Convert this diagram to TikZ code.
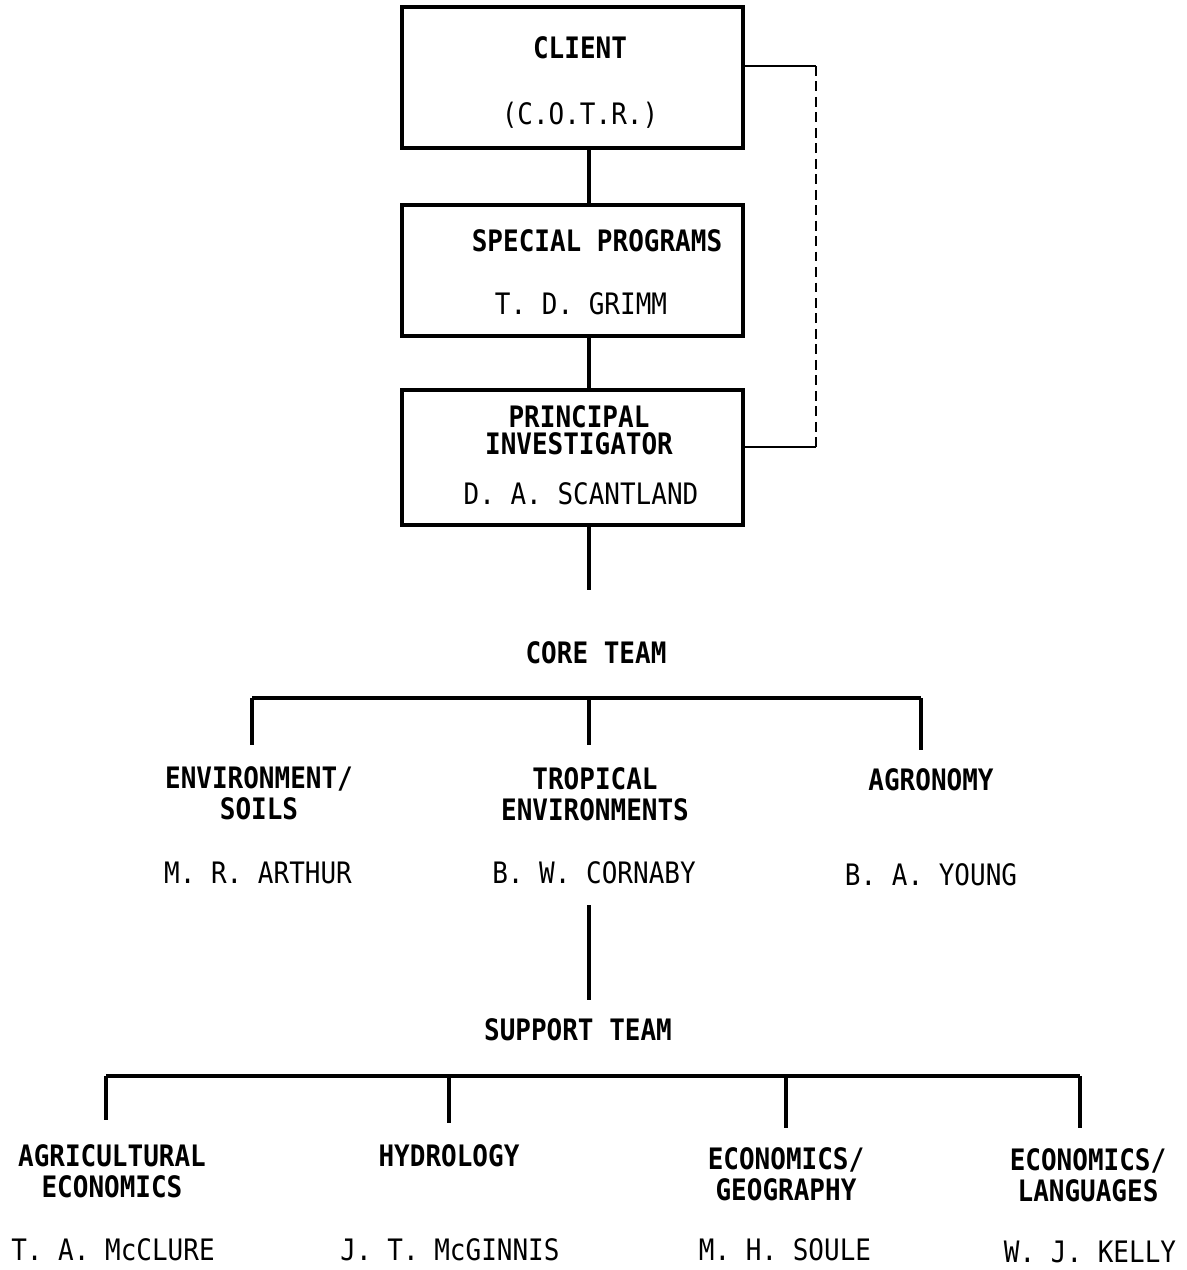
\documentclass[tikz,border=0pt]{standalone}
\usepackage{fontspec}
\newfontfamily\chartfont[FakeStretch=0.88]{DejaVu Sans Mono}
\begin{document}
\begin{tikzpicture}[x=0.025cm,y=-0.025cm,
	orgbox/.style={rectangle,draw,line width=2.4pt,inner sep=0pt,minimum width=8.525cm},
	headtext/.style={font={\chartfont\bfseries\fontsize{21}{22}\selectfont},align=center,inner sep=0pt},
	persontext/.style={font={\chartfont\fontsize{21}{22}\selectfont},inner sep=0pt},
	link/.style={line width=2.4pt},
	dashlink/.style={line width=1.6pt,dash pattern=on 7pt off 4pt}
]
\useasboundingbox (0,0) rectangle (1187,1270);

% Kaesten
\node[orgbox,minimum height=3.525cm] (client) at (572.5,77.5) {};
\node[orgbox,minimum height=3.275cm] (special) at (572.5,270.5) {};
\node[orgbox,minimum height=3.375cm] (pi) at (572.5,457.5) {};

\node[headtext] (clienthd) at (580,48) {CLIENT};
\node[persontext] (cotr) at (580,115) {(C.O.T.R.)};
\node[headtext] (specialhd) at (597,241) {SPECIAL PROGRAMS};
\node[persontext] (grimm) at (581,304) {T. D. GRIMM};
\node[headtext,font={\chartfont\bfseries\fontsize{21}{19.5}\selectfont}] (pihd) at (579,430) {PRINCIPAL\\INVESTIGATOR};
\node[persontext] (scantland) at (581,494) {D. A. SCANTLAND};

% Linien oben
\coordinate (spine) at (589,0);
\coordinate (pidrop) at (589,590);
\draw[link] (client.south -| spine) -- (special.north -| spine);
\draw[link] (special.south -| spine) -- (pi.north -| spine);
\draw[link] (pi.south -| spine) -- (pidrop);

\coordinate (dashtop) at (816,66);
\coordinate (dashbot) at (816,447);
\draw[link,line width=1.8pt] (client.east |- dashtop) -- (dashtop);
\draw[dashlink] (dashtop) -- (dashbot);
\draw[link,line width=1.8pt] (dashbot) -- (pi.east |- dashbot);

% Core Team
\node[headtext] (core) at (596,653) {CORE TEAM};
\coordinate (coreL) at (252,698);
\coordinate (coreM) at (589,698);
\coordinate (coreR) at (921,698);
\coordinate (envtop) at (252,745);
\coordinate (troptop) at (589,745);
\coordinate (agrotop) at (921,750);
\draw[link] (coreL) -- (coreR);
\draw[link] (coreL) -- (envtop);
\draw[link] (coreM) -- (troptop);
\draw[link] (coreR) -- (agrotop);

\node[headtext] (envhd) at (259,793) {ENVIRONMENT/\\SOILS};
\node[headtext] (tropichd) at (595,794.5) {TROPICAL\\ENVIRONMENTS};
\node[headtext] (agrohd) at (931,780) {AGRONOMY};
\node[persontext] (arthur) at (258,873) {M. R. ARTHUR};
\node[persontext] (cornaby) at (594,873) {B. W. CORNABY};
\node[persontext] (young) at (931,875) {B. A. YOUNG};

\coordinate (cornabydrop) at (589,905);
\coordinate (supportup) at (589,1000);
\draw[link] (cornabydrop) -- (supportup);

% Support Team
\node[headtext] (support) at (578,1030) {SUPPORT TEAM};
\coordinate (supL) at (106,1076);
\coordinate (supA) at (449,1076);
\coordinate (supB) at (786,1076);
\coordinate (supR) at (1080,1076);
\coordinate (agectop) at (106,1120);
\coordinate (hydtop) at (449,1123);
\coordinate (geotop) at (786,1128);
\coordinate (langtop) at (1080,1128);
\draw[link] (supL) -- (supR);
\draw[link] (supL) -- (agectop);
\draw[link] (supA) -- (hydtop);
\draw[link] (supB) -- (geotop);
\draw[link] (supR) -- (langtop);

\node[headtext] (agechd) at (112,1171.5) {AGRICULTURAL\\ECONOMICS};
\node[headtext] (hydhd) at (449,1156) {HYDROLOGY};
\node[headtext] (geohd) at (786,1174.5) {ECONOMICS/\\GEOGRAPHY};
\node[headtext] (langhd) at (1088,1175) {ECONOMICS/\\LANGUAGES};
\node[persontext] (mcclure) at (113,1250) {T. A. McCLURE};
\node[persontext] (mcginnis) at (450,1250) {J. T. McGINNIS};
\node[persontext] (soule) at (785,1250) {M. H. SOULE};
\node[persontext] (kelly) at (1090,1252) {W. J. KELLY};

\end{tikzpicture}
\end{document}
